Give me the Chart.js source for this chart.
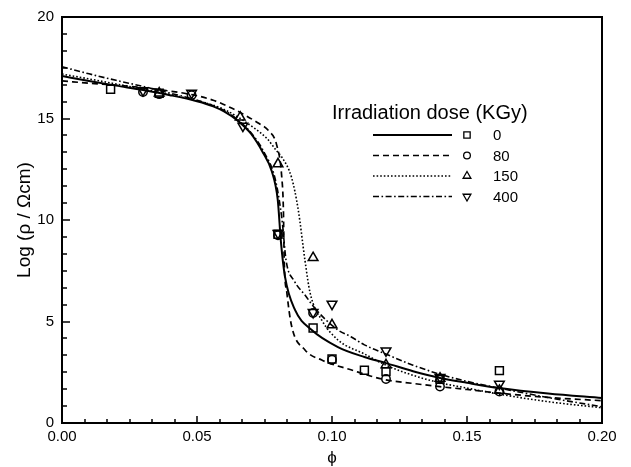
<!DOCTYPE html>
<html>
<head>
<meta charset="utf-8">
<script src="https://cdn.jsdelivr.net/npm/chart.js@4.4.1/dist/chart.umd.min.js"></script>
<style>
  html, body { margin: 0; padding: 0; background: #fff; }
  #wrap { width: 631px; height: 467px; }
</style>
</head>
<body>
<div id="wrap"><canvas id="c" width="631" height="467"></canvas></div>
<script>
// ---- data ----
const doses = ['0', '80', '150', '400'];
const legendTitle = 'Irradiation dose (KGy)';
const xTitle = 'ϕ';
const yTitle = 'Log (ρ / Ωcm)';
const xTicks = [0, 0.05, 0.10, 0.15, 0.20];
const yTicks = [0, 5, 10, 15, 20];

// fitted curves [phi, log rho]
const fit0 = [[0,17.09],[0.01,16.85],[0.02,16.62],[0.03,16.4],[0.04,16.15],[0.05,15.85],[0.056,15.6],[0.06,15.35],[0.065,14.9],[0.07,14.25],[0.0745,13.3],[0.0777,12.4],[0.0799,11.0],[0.0811,8.9],[0.0826,7.2],[0.0863,5.57],[0.0925,4.58],[0.1022,3.74],[0.112,3.25],[0.12,2.95],[0.13,2.55],[0.14,2.22],[0.15,1.98],[0.162,1.72],[0.18,1.45],[0.2,1.23]];
const fit80 = [[0,16.85],[0.012,16.72],[0.024,16.6],[0.036,16.42],[0.0486,16.16],[0.056,15.9],[0.063,15.5],[0.068,15.15],[0.073,14.75],[0.0765,14.4],[0.0795,13.7],[0.0814,12.1],[0.082,10.5],[0.0823,8.0],[0.0833,6.4],[0.085,4.8],[0.09,3.6],[0.0962,3.1],[0.107,2.62],[0.119,2.15],[0.13,1.95],[0.14,1.79],[0.15,1.65],[0.162,1.47],[0.181,1.25],[0.2,1.1]];
const fit150 = [[0,17.19],[0.01,16.95],[0.02,16.7],[0.03,16.45],[0.04,16.18],[0.05,15.88],[0.06,15.45],[0.0715,14.5],[0.076,14.0],[0.0795,13.4],[0.0814,13.1],[0.085,12.1],[0.0875,10.5],[0.09,8.0],[0.0919,6.4],[0.0962,5.07],[0.1022,4.09],[0.112,3.4],[0.12,2.85],[0.13,2.35],[0.14,1.98],[0.15,1.72],[0.162,1.42],[0.18,1.05],[0.2,0.75]];
const fit400 = [[0,17.55],[0.01,17.2],[0.02,16.88],[0.03,16.58],[0.04,16.25],[0.05,15.9],[0.06,15.4],[0.065,14.95],[0.07,14.3],[0.075,13.3],[0.079,12.0],[0.0815,10.0],[0.083,8.0],[0.086,7.0],[0.09,6.3],[0.094,5.6],[0.102,4.6],[0.107,4.25],[0.112,3.85],[0.119,3.45],[0.13,2.85],[0.14,2.4],[0.15,2.05],[0.162,1.72],[0.181,1.23],[0.2,0.8]];

// measured points [phi, log rho]
const pts0 = [[0.018,16.44],[0.036,16.24],[0.08,9.3],[0.093,4.68],[0.1,3.15],[0.112,2.6],[0.12,2.53],[0.14,2.15],[0.162,2.58]];
const pts80 = [[0.03,16.3],[0.036,16.2],[0.048,16.15],[0.08,9.25],[0.093,5.42],[0.1,3.12],[0.12,2.17],[0.14,1.8],[0.162,1.55]];
const pts150 = [[0.036,16.25],[0.066,15.06],[0.08,12.76],[0.093,8.14],[0.1,4.83],[0.12,2.86],[0.14,2.2],[0.162,1.6]];
const pts400 = [[0.03,16.38],[0.048,16.25],[0.067,14.63],[0.08,9.35],[0.093,5.45],[0.1,5.86],[0.12,3.56],[0.14,2.25],[0.162,1.92]];

// ---- styles ----
const FONT = '"Liberation Sans", Arial, sans-serif';
const fits = [fit0, fit80, fit150, fit400];
const pts = [pts0, pts80, pts150, pts400];
const dashes = [[], [6, 4], [1.6, 2], [6, 2.5, 1.6, 2.5]];
const widths = [2, 1.7, 1.6, 1.6];
const markers = [
  { style: 'rect', rot: 0, r: 5.6 },
  { style: 'circle', rot: 0, r: 4.2 },
  { style: 'triangle', rot: 0, r: 5.6 },
  { style: 'triangle', rot: 180, r: 5.6 }
];
const toXY = a => a.map(p => ({ x: p[0], y: p[1] }));

const datasets = [];
fits.forEach((f, i) => {
  datasets.push({
    label: doses[i] + ' fit', data: toXY(f), showLine: true,
    borderColor: '#000', borderWidth: widths[i], borderDash: dashes[i],
    pointRadius: 0, cubicInterpolationMode: 'monotone', fill: false
  });
});
pts.forEach((p, i) => {
  datasets.push({
    label: doses[i], data: toXY(p), showLine: false,
    pointStyle: markers[i].style, rotation: markers[i].rot, pointRadius: markers[i].r,
    borderColor: '#000', backgroundColor: 'rgba(0,0,0,0)', pointBorderWidth: 1.5
  });
});

const frame = {
  id: 'frame',
  afterDraw(chart) {
    const { ctx, chartArea: a, scales: { x, y } } = chart;
    ctx.save();
    ctx.strokeStyle = '#000';
    ctx.setLineDash([]);
    // inward ticks
    ctx.lineWidth = 1.5;
    ctx.beginPath();
    for (let i = 0; i <= 24; i++) {
      const major = i % 6 === 0;
      const px = Math.round(x.getPixelForValue(i * 0.05 / 6));
      ctx.moveTo(px, a.bottom); ctx.lineTo(px, a.bottom - (major ? 7 : 4));
      const py = Math.round(y.getPixelForValue(i * 5 / 6));
      ctx.moveTo(a.left, py); ctx.lineTo(a.left + (major ? 8 : 5), py);
    }
    ctx.stroke();
    // box
    ctx.lineWidth = 2;
    ctx.strokeRect(a.left, a.top, a.right - a.left, a.bottom - a.top);

    // legend inside plot
    ctx.textAlign = 'left';
    ctx.textBaseline = 'middle';
    ctx.fillStyle = '#000';
    ctx.font = '20px ' + FONT;
    ctx.fillText(legendTitle, 332, 113);
    const rowY = [135, 155.5, 176, 196.5];
    doses.forEach((d, i) => {
      const yy = rowY[i];
      ctx.lineWidth = widths[i];
      ctx.setLineDash(dashes[i]);
      ctx.beginPath(); ctx.moveTo(373, yy); ctx.lineTo(452, yy); ctx.stroke();
      ctx.setLineDash([]);
      ctx.lineWidth = 1.3;
      ctx.fillStyle = 'rgba(0,0,0,0)';
      Chart.helpers.drawPoint(ctx, { pointStyle: markers[i].style, rotation: markers[i].rot, radius: markers[i].r * 0.8, borderWidth: 1.3 }, 467, yy);
      ctx.fillStyle = '#000';
      ctx.font = '15px ' + FONT;
      ctx.fillText(d, 493, yy + 1);
    });
    ctx.restore();
  }
};

new Chart(document.getElementById('c'), {
  type: 'scatter',
  data: { datasets },
  options: {
    responsive: false,
    animation: false,
    events: [],
    layout: { padding: { left: 0, right: 29, top: 16, bottom: 0 } },
    plugins: { legend: { display: false }, tooltip: { enabled: false } },
    scales: {
      x: {
        type: 'linear', min: 0, max: 0.2,
        afterFit(s) { s.height = 44; },
        afterBuildTicks(s) { s.ticks = xTicks.map(v => ({ value: v })); },
        grid: { display: false, drawTicks: false },
        border: { display: false },
        ticks: { color: '#000', padding: 5, maxRotation: 0, font: { family: FONT, size: 15 }, callback: v => v.toFixed(2) },
        title: { display: true, text: xTitle, color: '#000', padding: 0, font: { family: FONT, size: 17, lineHeight: 1 } }
      },
      y: {
        type: 'linear', min: 0, max: 20,
        afterFit(s) { s.width = 62; },
        afterBuildTicks(s) { s.ticks = yTicks.map(v => ({ value: v })); },
        grid: { display: false, drawTicks: false },
        border: { display: false },
        ticks: { color: '#000', padding: 8, font: { family: FONT, size: 15 }, callback: v => String(v) },
        title: { display: true, text: yTitle, color: '#000', padding: 15, font: { family: FONT, size: 19, lineHeight: 1 } }
      }
    }
  },
  plugins: [frame]
});
</script>
</body>
</html>
